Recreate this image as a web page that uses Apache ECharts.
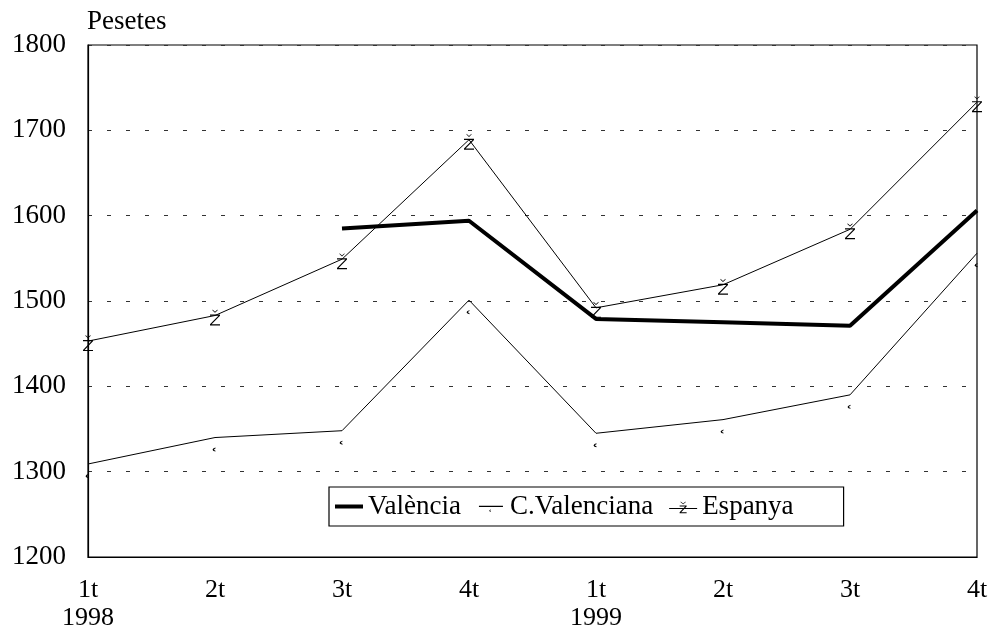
<!DOCTYPE html>
<html><head><meta charset="utf-8">
<script src="https://cdn.jsdelivr.net/npm/echarts@6/dist/echarts.min.js"></script>
<style>html,body{margin:0;padding:0;background:#fff}#c{width:991px;height:634px}</style>
</head><body><div id="c"></div>
<script>
const categories = ['1t\n1998','2t','3t','4t','1t\n1999','2t','3t','4t'];
const valencia = [null, null, 1585, 1594, 1479, 1475, 1471, 1606];
const cValenciana = [1309, 1340, 1348, 1501, 1345, 1361, 1390, 1556];
const espanya = [1453, 1483, 1549, 1689, 1492, 1519, 1584, 1733];
const yTicks = [1200, 1300, 1400, 1500, 1600, 1700, 1800];

const zPath = 'path://M2.5,0 L5,2.2 L7.5,0 L7.5,0.9 L5,3.2 L2.5,0.9 Z M0,5 L10,5 L10,6.2 L1.6,14.8 L10,14.8 L10,16 L0,16 L0,14.8 L8.4,6.2 L0,6.2 Z';
const cPath = 'path://M3,0 L1,0.8 L0,2.2 L1,3.4 L3,4 L3,3.1 L1.6,2.4 L1.8,1.4 L3,0.9 Z';
const anchors = 'M0,0 L0.01,0 L0,0.01 Z M28,16 L27.99,16 L28,15.99 Z ';
const iconValencia = 'path://' + anchors + 'M0,6 L28,6 L28,10 L0,10 Z';
const iconCV = 'path://' + anchors + 'M2,7.3 L26,7.3 L26,8.6 L2,8.6 Z M14,11 L12.8,11.5 L12.3,12.3 L12.8,13 L14,13.4 L14,12.9 L13.2,12.5 L13.3,11.9 L14,11.5 Z';
const iconES = 'path://' + anchors + 'M0,9.4 L28,9.4 L28,10.6 L0,10.6 Z M11.5,3 L14,5 L16.5,3 L16.5,3.8 L14,5.8 L11.5,3.8 Z M10.5,7 L17.5,7 L17.5,8 L12,13.8 L17.5,13.8 L17.5,14.8 L10.5,14.8 L10.5,13.8 L16,8 L10.5,8 Z';
const font = 'Liberation Serif';

const chart = echarts.init(document.getElementById('c'), null, {renderer:'canvas'});
chart.setOption({
  animation: false,
  backgroundColor: '#fff',
  textStyle: {fontFamily: font, color: '#000'},
  title: {text: 'Pesetes', left: 87, top: 8, padding: 0, textStyle: {fontFamily: font, fontSize: 27, fontWeight: 'normal', color: '#000'}},
  grid: {left: 88, right: 14, top: 45, bottom: 77, show: true, borderColor: '#000', borderWidth: 1.2, containLabel: false},
  legend: {
    left: 329, top: 487,
    padding: [6, 50, 6, 6],
    borderColor: '#000', borderWidth: 1.2,
    itemWidth: 28, itemHeight: 16, itemGap: 16,
    textStyle: {fontFamily: font, fontSize: 27, color: '#000'},
    data: [
      {name: 'València', icon: iconValencia},
      {name: 'C.Valenciana', icon: iconCV},
      {name: 'Espanya', icon: iconES}
    ]
  },
  xAxis: {
    type: 'category', data: categories, boundaryGap: false,
    axisLine: {show: true, lineStyle: {color: '#000', width: 1.2}},
    axisTick: {show: false},
    axisLabel: {fontFamily: font, fontSize: 26, color: '#000', lineHeight: 28, margin: 19, interval: 0}
  },
  yAxis: {
    type: 'value', min: yTicks[0], max: yTicks[yTicks.length-1], interval: 100,
    axisLine: {show: true, lineStyle: {color: '#000', width: 1.2}},
    axisTick: {show: false},
    axisLabel: {fontFamily: font, fontSize: 27, color: '#000', margin: 22, formatter: v => String(v)},
    splitLine: {show: true, lineStyle: {color: '#333', width: 1, type: [4, 15]}}
  },
  series: [
    {name: 'València', type: 'line', data: valencia, symbol: 'none', connectNulls: false,
     lineStyle: {color: '#000', width: 4}, itemStyle: {color: '#000'}, z: 5},
    {name: 'C.Valenciana', type: 'line', data: cValenciana, symbol: cPath, symbolSize: [3, 4], symbolOffset: [-1, 12],
     lineStyle: {color: '#000', width: 1}, itemStyle: {color: '#000'}, z: 3},
    {name: 'Espanya', type: 'line', data: espanya, symbol: zPath, symbolSize: [10, 16], symbolOffset: [0, 2],
     lineStyle: {color: '#000', width: 1}, itemStyle: {color: '#000'}, z: 4}
  ]
});
</script></body></html>
